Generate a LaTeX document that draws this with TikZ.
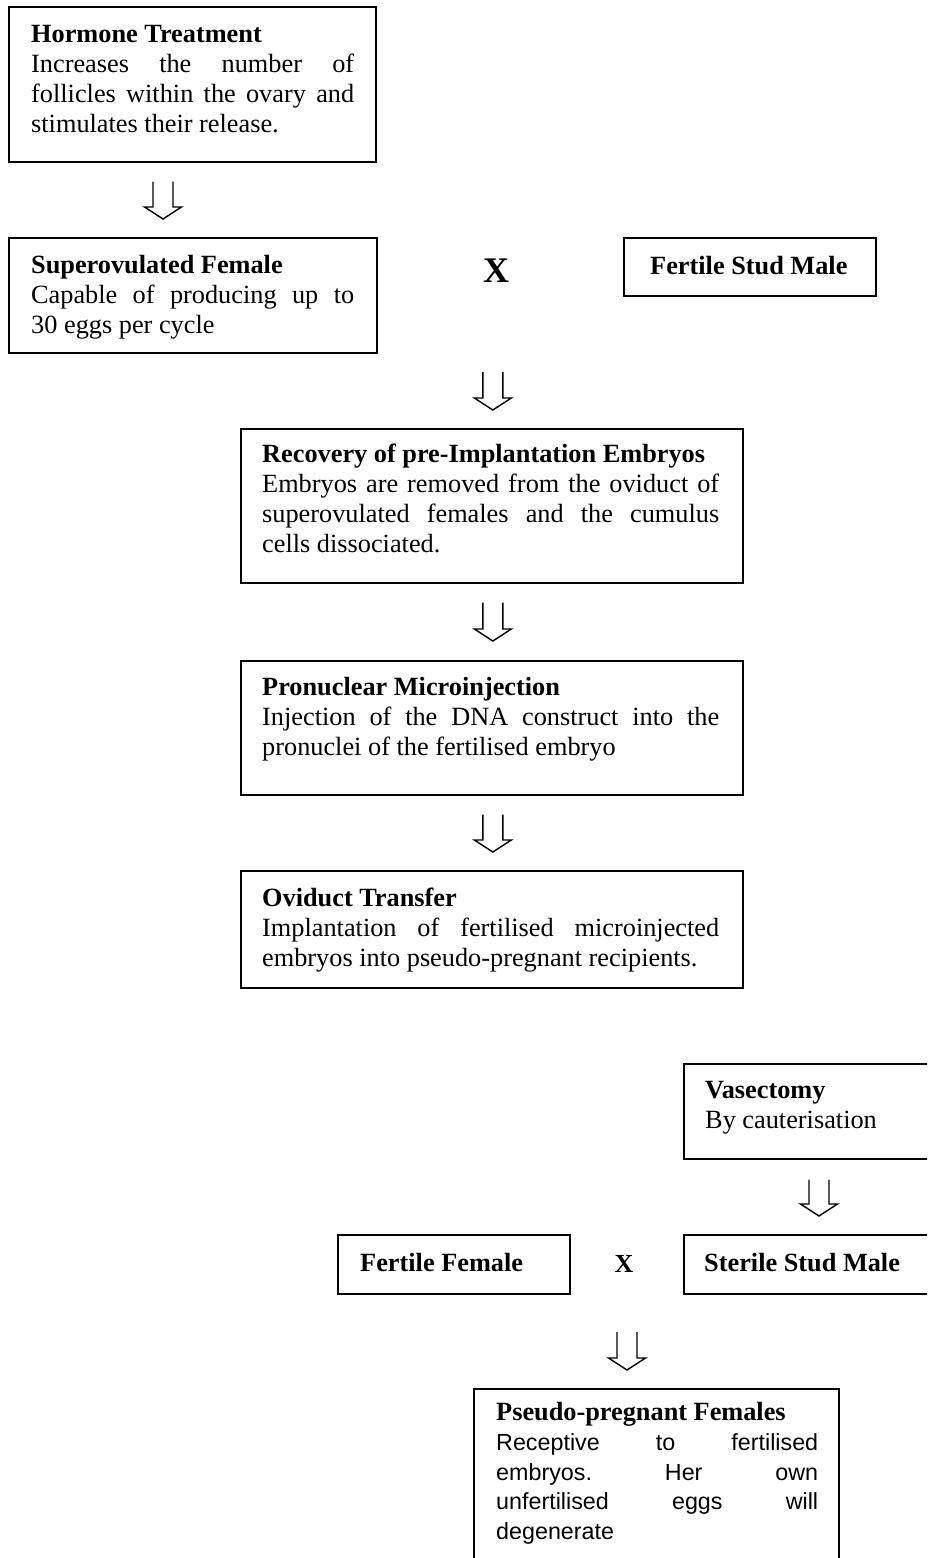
\documentclass[tikz,border=0pt]{standalone}
\usepackage{fontspec}
\setmainfont{Liberation Serif}
\setsansfont{Liberation Sans}
\usetikzlibrary{calc}
\frenchspacing
\newcommand{\ns}{\spaceskip=0pt\xspaceskip=0pt\relax}
\newcommand{\jl}[2]{\makebox[#1pt][s]{\ns #2}}
\tikzset{
  box/.style={draw, line width=1.7pt, rectangle, inner sep=0pt, anchor=north west},
  txt/.style={anchor=north west, inner sep=0pt, align=left, font=\fontsize{26.3}{30}\selectfont},
  ttl/.style={anchor=base west, inner sep=0pt, font=\fontsize{26.3}{30}\selectfont\bfseries},
  cross/.style={inner sep=0pt, anchor=center},
  blockto/.style={line width=1.4pt, line join=miter,
    to path={($(\tikztostart)+(-10,0)$) -- ($(\tikztotarget)+(-10,-12)$)
      -- ($(\tikztotarget)+(-18.5,-12)$) -- (\tikztotarget)
      -- ($(\tikztotarget)+(18.5,-12)$) -- ($(\tikztotarget)+(10,-12)$)
      -- ($(\tikztostart)+(10,0)$)}},
}
\begin{document}
\begin{tikzpicture}[x=1pt,y=-1pt]
\useasboundingbox (0,0) rectangle (927,1558);
\fill[white] (0,0) rectangle (927,1558);
\clip (0,0) rectangle (927,1558);

% boxes
\node[box, minimum width=367, minimum height=155] (hormone) at (8,6) {};
\node[box, minimum width=368, minimum height=115] (superov) at (8,237) {};
\node[box, minimum width=252, minimum height=58] (fstud) at (623,237) {};
\node[box, minimum width=502, minimum height=154] (recovery) at (240,428) {};
\node[box, minimum width=502, minimum height=134] (pronuc) at (240,660) {};
\node[box, minimum width=502, minimum height=117] (oviduct) at (240,870) {};
\node[box, minimum width=300, minimum height=95] (vasect) at (683,1063) {};
\node[box, minimum width=232, minimum height=59] (ffemale) at (337,1234) {};
\node[box, minimum width=300, minimum height=59] (sterile) at (683,1234) {};
\node[box, minimum width=365, minimum height=220] (pseudo) at (473,1388) {};

% texts
\node[txt, text width=323] (thormone) at (31,21) {\ns\strut\textbf{Hormone Treatment}\\
\jl{323}{Increases the number of}\\
\jl{323}{follicles within the ovary and}\\
stimulates their release.};

\node[txt, text width=323] (tsuperov) at (31,252) {\ns\strut\textbf{Superovulated Female}\\
\jl{323}{Capable of producing up to}\\
30 eggs per cycle};

\node[ttl] (tfstud) at (650,274) {Fertile Stud Male};
\node[cross, font=\fontsize{36}{40}\selectfont\bfseries] (x1) at (496,271) {X};

\node[txt, text width=457] (trecovery) at (262,441) {\ns\strut\textbf{Recovery of pre-Implantation Embryos}\\
\jl{457}{Embryos are removed from the oviduct of}\\
\jl{457}{superovulated females and the cumulus}\\
cells dissociated.};

\node[txt, text width=457] (tpronuc) at (262,674) {\ns\strut\textbf{Pronuclear Microinjection}\\
\jl{457}{Injection of the DNA construct into the}\\
pronuclei of the fertilised embryo};

\node[txt, text width=457] (toviduct) at (262,885) {\ns\strut\textbf{Oviduct Transfer}\\
\jl{457}{Implantation of fertilised microinjected}\\
embryos into pseudo-pregnant recipients.};

\node[txt, text width=220] (tvasect) at (705,1077) {\ns\strut\textbf{Vasectomy}\\
By cauterisation};

\node[ttl] (tffemale) at (360,1271) {Fertile Female};
\node[cross, font=\fontsize{26}{30}\selectfont\bfseries] (x2) at (624,1263.5) {X};
\node[ttl] (tsterile) at (704,1271) {Sterile Stud Male};

\node[txt, text width=322, font=\sffamily\fontsize{23.3}{29.6}\selectfont] (tpseudo) at (496,1400) {\ns\strut{\rmfamily\bfseries\fontsize{26.3}{29.6}\selectfont Pseudo-pregnant Females}\\
\jl{322}{Receptive to fertilised}\\
\jl{322}{embryos. Her own}\\
\jl{322}{unfertilised eggs will}\\
degenerate};

% block arrows
\draw[blockto] ($(hormone.south west)+(155,19)$) to ($(superov.north west)+(155,-18)$);
\draw[blockto] ($(recovery.north)+(1,-56)$) to ($(recovery.north)+(1,-18)$);
\draw[blockto] ($(recovery.south)+(1,19)$) to ($(pronuc.north)+(1,-19)$);
\draw[blockto] ($(pronuc.south)+(1,19)$) to ($(oviduct.north)+(1,-18)$);
\draw[blockto] ($(vasect.south west)+(136,20)$) to ($(sterile.north west)+(136,-18)$);
\draw[blockto] ($(pseudo.north west)+(154,-56)$) to ($(pseudo.north west)+(154,-18)$);
\end{tikzpicture}
\end{document}
